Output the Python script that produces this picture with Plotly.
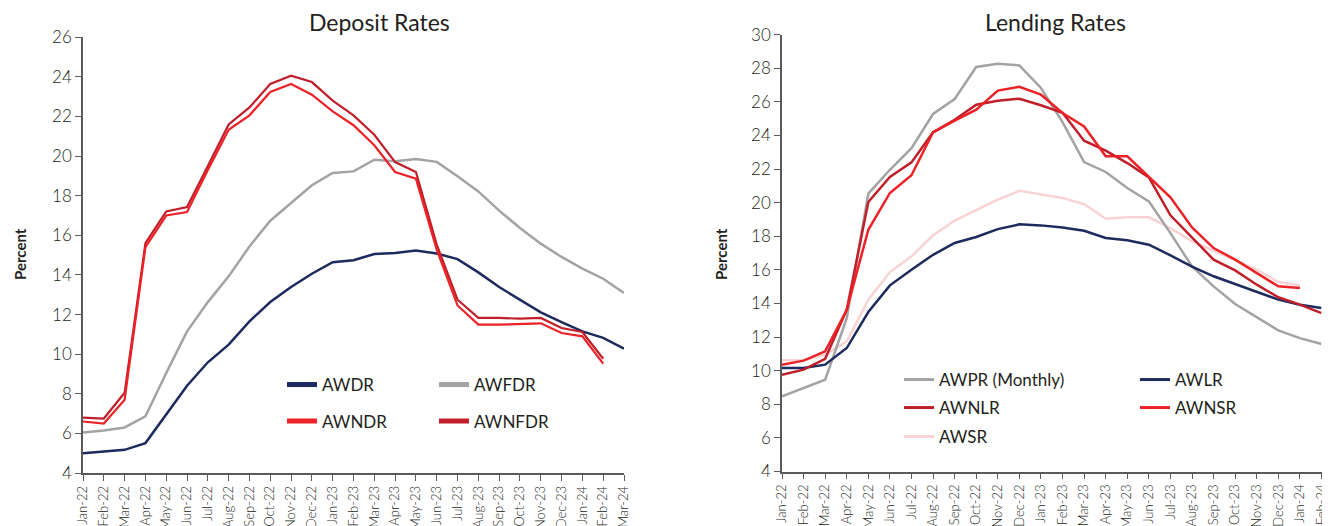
import plotly.graph_objects as go

# ---------------- data ----------------
months = ["Jan-22", "Feb-22", "Mar-22", "Apr-22", "May-22", "Jun-22", "Jul-22", "Aug-22",
          "Sep-22", "Oct-22", "Nov-22", "Dec-22", "Jan-23", "Feb-23", "Mar-23", "Apr-23",
          "May-23", "Jun-23", "Jul-23", "Aug-23", "Sep-23", "Oct-23", "Nov-23", "Dec-23",
          "Jan-24", "Feb-24", "Mar-24"]
dep_months = months
lend_months = months[:26]

# Deposit rates (percent)
awdr = [5.0, 5.07, 5.17, 5.51, 6.94, 8.41, 9.59, 10.48, 11.66, 12.63, 13.39, 14.06,
        14.64, 14.74, 15.06, 15.11, 15.24, 15.08, 14.8, 14.13, 13.39, 12.75, 12.11, 11.62,
        11.15, 10.82, 10.28]
awfdr = [6.05, 6.15, 6.30, 6.86, 9.05, 11.15, 12.63, 13.93, 15.44, 16.74, 17.63, 18.53,
         19.15, 19.23, 19.82, 19.74, 19.86, 19.71, 18.98, 18.22, 17.25, 16.37, 15.58, 14.91,
         14.32, 13.81, 13.09]
awndr = [6.6, 6.5, 7.7, 15.4, 17.0, 17.18, 19.3, 21.33, 22.06, 23.24, 23.64, 23.1,
         22.26, 21.56, 20.55, 19.2, 18.86, 15.28, 12.46, 11.49, 11.49, 11.52, 11.56, 11.07,
         10.9, 9.52, None]
awnfdr = [6.8, 6.75, 8.05, 15.6, 17.21, 17.43, 19.5, 21.6, 22.46, 23.64, 24.06, 23.74,
          22.8, 22.06, 21.08, 19.7, 19.2, 15.53, 12.75, 11.83, 11.83, 11.79, 11.83, 11.32,
          11.12, 9.77, None]

# Lending rates (percent)
awpr = [8.47, 8.97, 9.46, 13.13, 20.54, 21.96, 23.25, 25.28, 26.17, 28.08, 28.27, 28.17,
        26.83, 24.8, 22.42, 21.83, 20.87, 20.08, 18.19, 16.2, 15.02, 13.97, 13.17, 12.4,
        11.94, 11.59]
awlr = [10.16, 10.16, 10.36, 11.35, 13.49, 15.08, 16.01, 16.9, 17.6, 17.96, 18.43, 18.71,
        18.65, 18.53, 18.33, 17.9, 17.76, 17.5, 16.87, 16.19, 15.62, 15.16, 14.66, 14.23,
        13.93, 13.73]
awnlr = [9.76, 10.06, 10.71, 13.63, 20.04, 21.53, 22.4, 24.19, 24.94, 25.83, 26.07, 26.19,
         25.8, 25.35, 23.69, 23.1, 22.36, 21.5, 19.25, 17.9, 16.61, 15.97, 15.12, 14.37,
         13.93, 13.43]
awnsr = [10.36, 10.6, 11.15, 13.63, 18.39, 20.58, 21.63, 24.19, 24.88, 25.54, 26.67, 26.9,
         26.43, 25.34, 24.54, 22.76, 22.76, 21.57, 20.32, 18.53, 17.3, 16.61, 15.81, 15.02,
         14.92, None]
awsr = [10.62, 10.62, 10.95, 11.75, 14.23, 15.87, 16.81, 18.06, 18.93, 19.58, 20.18, 20.71,
        20.48, 20.28, 19.92, 19.05, 19.13, 19.13, 18.49, 17.7, 17.14, 16.57, 16.01, 15.28,
        15.08, None]

dep_ticks = list(range(4, 27, 2))
lend_ticks = list(range(4, 31, 2))

# ---------------- styling ----------------
NAVY = "#1C2A5E"
GREY = "#A3A3A3"
RED = "#EC2227"
DRED = "#C01F2A"
PINK = "#F9D3D3"
TXT = "#231F20"
AX = "#5A5A5A"
FONT = "Lato"

W, H = 1330, 526
fig = go.Figure()


def px_x(v):
    return v / W


def px_y(v):
    return 1 - v / H


def add_line(x, y, color, width, xa, ya):
    fig.add_trace(go.Scatter(x=x, y=y, mode="lines", showlegend=False, hoverinfo="skip",
                             line=dict(color=color, width=width),
                             xaxis=xa, yaxis=ya, connectgaps=False))


# Deposit chart
add_line(dep_months, awfdr, GREY, 2.5, "x", "y")
add_line(dep_months, awdr, NAVY, 2.5, "x", "y")
add_line(dep_months, awnfdr, DRED, 2.2, "x", "y")
add_line(dep_months, awndr, RED, 2.2, "x", "y")

# Lending chart
add_line(lend_months, awsr, PINK, 2.5, "x2", "y2")
add_line(lend_months, awpr, GREY, 2.5, "x2", "y2")
add_line(lend_months, awlr, NAVY, 2.5, "x2", "y2")
add_line(lend_months, awnlr, DRED, 2.5, "x2", "y2")
add_line(lend_months, awnsr, RED, 2.5, "x2", "y2")

# legend entries: (name, colour, swatch width, axes, legend x px, legend y px)
legend_items = [
    ("AWDR", NAVY, 5, "x", "y", 274, 377),
    ("AWFDR", GREY, 5, "x", "y", 426, 377),
    ("AWNDR", RED, 5, "x", "y", 274, 413.5),
    ("AWNFDR", DRED, 5, "x", "y", 426, 413.5),
    ("AWPR (Monthly)", GREY, 3, "x2", "y2", 891, 372),
    ("AWLR", NAVY, 3, "x2", "y2", 1127, 372),
    ("AWNLR", DRED, 3, "x2", "y2", 891, 400),
    ("AWNSR", RED, 3, "x2", "y2", 1127, 400),
    ("AWSR", PINK, 3, "x2", "y2", 891, 429),
]

legend_layout = {}
for i, (name, color, lw, xa, ya, lx, ly) in enumerate(legend_items):
    key = "legend" if i == 0 else f"legend{i + 1}"
    fig.add_trace(go.Scatter(x=[None], y=[None], mode="lines", name=name,
                             line=dict(color=color, width=lw),
                             legend=key, xaxis=xa, yaxis=ya))
    legend_layout[key] = dict(orientation="h", xanchor="left", yanchor="middle",
                              bgcolor="rgba(0,0,0,0)", x=px_x(lx), y=px_y(ly),
                              font=dict(family=FONT, size=17, color=TXT))

common_x = dict(type="category", tickangle=-90, ticks="outside", ticklen=6, tickwidth=1.2,
                tickcolor=AX, showline=True, linecolor=AX, linewidth=1.5, showgrid=False,
                zeroline=False, tickfont=dict(family=FONT, size=13, color=TXT, weight=300),
                automargin=False)
common_y = dict(ticks="outside", ticklen=6, tickwidth=1.2, tickcolor=AX, showline=True,
                linecolor=AX, linewidth=1.5, showgrid=False, zeroline=False,
                tickfont=dict(family=FONT, size=17, color=TXT, weight=300), automargin=False)

fig.update_layout(
    width=W, height=H,
    margin=dict(l=0, r=0, t=0, b=0),
    paper_bgcolor="white", plot_bgcolor="white",
    font=dict(family=FONT, color=TXT),
    xaxis=dict(common_x, domain=[px_x(75), px_x(616)], range=[0, 26], anchor="y",
               categoryorder="array", categoryarray=dep_months),
    yaxis=dict(common_y, domain=[px_y(465), px_y(29.3)], range=[4, 26],
               tickvals=dep_ticks, anchor="x"),
    xaxis2=dict(common_x, domain=[px_x(774), px_x(1313.5)], range=[0, 25], anchor="y2",
                categoryorder="array", categoryarray=lend_months),
    yaxis2=dict(common_y, domain=[px_y(463.5), px_y(26.7)], range=[4, 30],
                tickvals=lend_ticks, anchor="x2"),
    showlegend=True,
    **legend_layout,
)

annos = [
    dict(text="Deposit Rates", x=px_x(372), y=px_y(14), xref="paper", yref="paper",
         showarrow=False, font=dict(family=FONT, size=23, color=TXT), xanchor="center", yanchor="middle"),
    dict(text="Lending Rates", x=px_x(1047), y=px_y(14), xref="paper", yref="paper",
         showarrow=False, font=dict(family=FONT, size=23, color=TXT), xanchor="center", yanchor="middle"),
    dict(text="Percent", x=px_x(12), y=px_y(246), xref="paper", yref="paper", textangle=-90,
         showarrow=False, font=dict(family=FONT, size=15, color=TXT, weight="bold"),
         xanchor="center", yanchor="middle"),
    dict(text="Percent", x=px_x(713), y=px_y(246), xref="paper", yref="paper", textangle=-90,
         showarrow=False, font=dict(family=FONT, size=15, color=TXT, weight="bold"),
         xanchor="center", yanchor="middle"),
]
fig.update_layout(annotations=annos)

fig.write_html("out.html")
